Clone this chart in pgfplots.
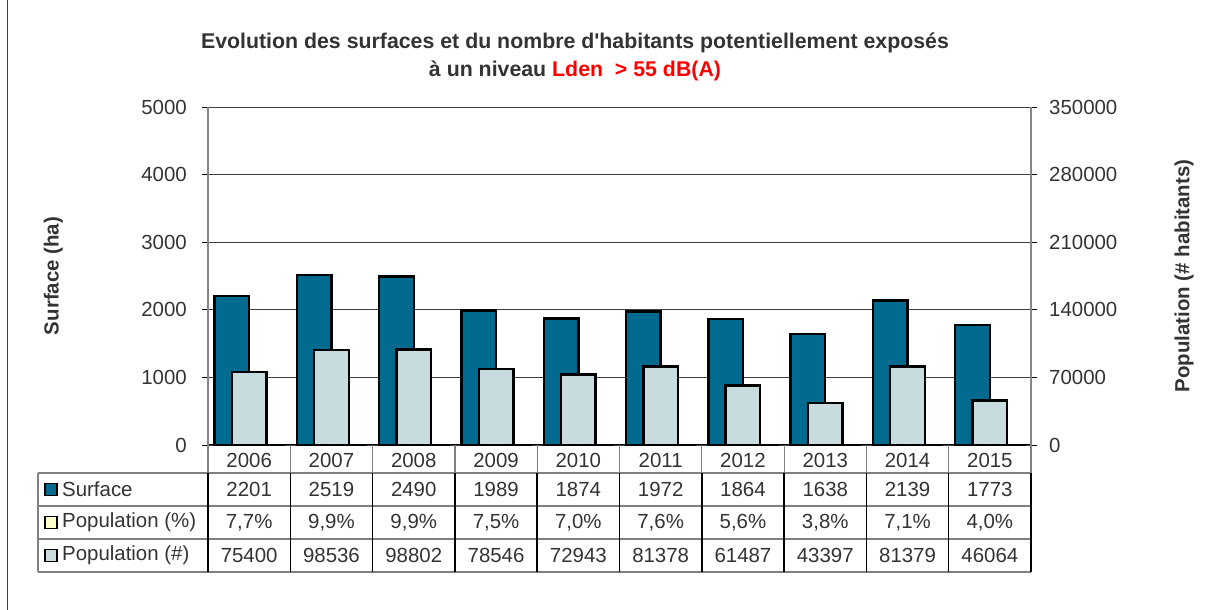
\documentclass[border=0pt]{standalone}
\usepackage{fontspec}
\setmainfont{Liberation Sans}
\usepackage{pgfplots}
\usepackage{pgfplotstable}
\pgfplotsset{compat=1.18}
\definecolor{surf}{HTML}{006B8F}
\definecolor{popn}{HTML}{C8DCE0}
\definecolor{pct}{HTML}{FFFFCC}
\definecolor{txt}{HTML}{333333}
\definecolor{axgray}{HTML}{868686}

\pgfplotstableread{
x year surf pct pop
0 2006 2201 0.077 75400
1 2007 2519 0.099 98536
2 2008 2490 0.099 98802
3 2009 1989 0.075 78546
4 2010 1874 0.070 72943
5 2011 1972 0.076 81378
6 2012 1864 0.056 61487
7 2013 1638 0.038 43397
8 2014 2139 0.071 81379
9 2015 1773 0.040 46064
}\data

\newcommand{\tf}{\fontsize{20.5}{24}\selectfont}

\begin{document}
\begin{tikzpicture}
\pgfplotsset{
  base/.style={
    at={(208bp,165bp)}, anchor=south west,
    scale only axis, width=823bp, height=338bp,
    xmin=-0.5, xmax=9.5, clip=false,
    tick align=outside, major tick length=6bp,
    tick style={black, line width=0.8bp},
    ticklabel style={font=\tf, text=txt},
    /pgf/number format/assume math mode=true,
    scaled y ticks=false,
    yticklabel style={/pgf/number format/fixed, /pgf/number format/1000 sep={}},
  }
}
\begin{axis}[base,
  axis y line*=left, axis x line*=bottom,
  ymin=0, ymax=5000, ytick={0,1000,2000,3000,4000,5000},
  xtick={0,...,9}, xticklabels from table={\data}{year},
  xtick style={draw=none},
  xticklabel style={anchor=center, yshift=-9bp},
  ymajorgrids, grid style={color=black!75, line width=0.9bp},
  y axis line style={axgray, line width=1.2bp},
  x axis line style={black, line width=1bp},
  yticklabel style={anchor=east, inner sep=0pt, xshift=-15bp},
  ylabel={Surface (ha)},
  every axis y label/.style={at={(axis description cs:-0.1880,0.5)}, rotate=90, anchor=center, font=\bfseries\tf, text=txt},
]
\addplot[ybar, bar width=0.42, bar shift=-0.21, fill=surf, draw=black, line width=2.4bp] table[x=x,y=surf]{\data};
\addplot[ybar, bar width=0.42, bar shift=0.21, fill=pct, draw=black, line width=2.4bp] table[x=x,y=pct]{\data};
\end{axis}
\begin{axis}[base,
  axis y line*=right, axis x line=none,
  ymin=0, ymax=350000, ytick={0,70000,140000,210000,280000,350000},
  y axis line style={axgray, line width=1.2bp},
  yticklabel style={anchor=west, inner sep=0pt, xshift=12bp},
  ylabel={Population (\# habitants)},
  every axis y label/.style={at={(axis description cs:1.1859,0.5)}, rotate=90, anchor=center, font=\bfseries\tf, text=txt},
]
\addplot[ybar, bar width=0.42, bar shift=0, fill=popn, draw=black, line width=2.4bp] table[x=x,y=pop]{\data};
\end{axis}
\begin{scope}[x=1bp,y=1bp]
  % outer frame (left edge)
  \draw[black!75, line width=1bp] (7,0) -- (7,610);
  % title
  \node[align=center, font=\bfseries\fontsize{21.4}{28}\selectfont, text=txt] at (575,553)
    {Evolution des surfaces et du nombre d\textquotesingle habitants potentiellement exposés\\
     à un niveau {\color{red}Lden\ \ > 55 dB(A)}};
  % table grid
  \foreach \yy in {137,104,71,38} \draw[black!50, line width=1.2bp] (38,\yy) -- (1031,\yy);
  \draw[black!50, line width=1.2bp] (38,137) -- (38,38);
  \foreach \k in {0,...,10} {
    \draw[black!50, line width=1.2bp] ({208+82.3*\k},165) -- ({208+82.3*\k},137);
    \draw[black, line width=1.5bp] ({208+82.3*\k},137) -- ({208+82.3*\k},38);
  }
  % legend keys and row labels
  \foreach \yy/\cc/\lab in {120.5/surf/Surface, 87.5/pct/Population (\%), 54.5/popn/Population (\#)} {
    \draw[fill=\cc, draw=black, line width=1.5bp] (45,\yy-6) rectangle (57,\yy+6);
    \node[anchor=west, inner sep=0pt, font=\tf, text=txt] at (62,\yy) {\lab};
  }
  % table values
  \foreach \v [count=\i from 0] in {2201,2519,2490,1989,1874,1972,1864,1638,2139,1773}
    \node[font=\tf, text=txt] at ({249.15+82.3*\i},120.5) {\v};
  \foreach \v [count=\i from 0] in {{7,7\%},{9,9\%},{9,9\%},{7,5\%},{7,0\%},{7,6\%},{5,6\%},{3,8\%},{7,1\%},{4,0\%}}
    \node[font=\tf, text=txt] at ({249.15+82.3*\i},87.5) {\v};
  \foreach \v [count=\i from 0] in {75400,98536,98802,78546,72943,81378,61487,43397,81379,46064}
    \node[font=\tf, text=txt] at ({249.15+82.3*\i},54.5) {\v};
  \pgfresetboundingbox
  \path (0,0) rectangle (1208,610);
\end{scope}
\end{tikzpicture}
\end{document}
